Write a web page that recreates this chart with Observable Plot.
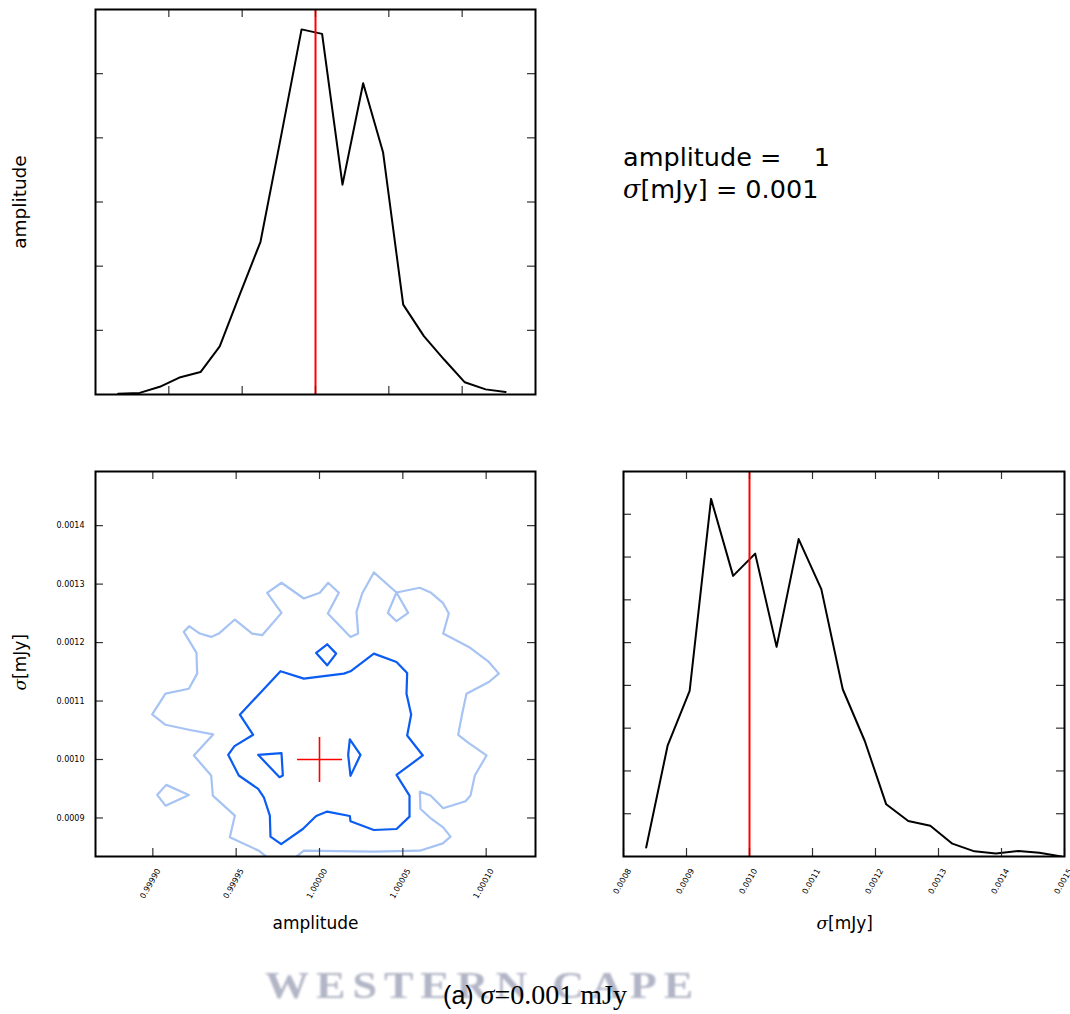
<!DOCTYPE html>
<html><head><meta charset="utf-8">
<script src="https://cdn.jsdelivr.net/npm/d3@7"></script>
<script src="https://cdn.jsdelivr.net/npm/@observablehq/plot@0.6"></script>
<style>
body{margin:0;background:#fff;}
#wrap{position:relative;width:1070px;height:1014px;overflow:hidden;font-family:"DejaVu Sans";background:#fff;}
.panel{position:absolute;}
.annot{position:absolute;left:623px;top:141px;font-size:25.5px;line-height:32px;white-space:pre;color:#000;}
.sig{font-family:"DejaVu Serif";font-style:italic;}
.wm{position:absolute;left:265px;top:963px;font-family:"Liberation Serif";font-weight:bold;font-size:38px;letter-spacing:6px;color:#b2b5c6;white-space:pre;transform-origin:0 0;transform:scaleX(1.16);filter:blur(0.9px);}
.cap{position:absolute;left:0;width:1070px;top:979px;text-align:center;white-space:pre;color:#000;}
.cap .a{font-family:"Liberation Sans";font-size:25px;}
.cap .s{font-family:"Liberation Serif";font-size:28px;}
</style></head><body><div id="wrap">
<div class="wm">WESTERN CAPE</div>
<div class="cap" id="cap"></div>
<div class="annot" id="annot"></div>
</div>
<script>
// ---- data ----
const truthAmp = 1.0;
const truthSigma = 0.001;

// marginal histogram of amplitude (bin centres, relative counts)
const ampBins = [0.9998654, 0.9998801, 0.9998938, 0.9999079, 0.9999216, 0.9999347, 0.9999484, 0.9999625, 0.9999763, 0.9999905,
                 1.0000045, 1.0000184, 1.0000325, 1.0000461, 1.0000598, 1.0000739, 1.0000877, 1.0001018, 1.0001160, 1.0001296];
const ampCounts = [0.01, 0.025, 0.12, 0.27, 0.35, 0.75, 1.56, 2.38, 4.0, 5.69,
                   5.62, 3.27, 4.85, 3.77, 1.40, 0.91, 0.545, 0.19, 0.08, 0.04];

// marginal histogram of sigma
const sigmaBins = [0.000836, 0.000870, 0.000905, 0.000939, 0.000974, 0.001009, 0.001043, 0.001078, 0.001114, 0.001148,
                   0.001183, 0.001217, 0.001252, 0.001287, 0.001322, 0.001357, 0.001391, 0.001427, 0.001460, 0.001495];
const sigmaCounts = [0.21, 2.59, 3.87, 8.36, 6.56, 7.08, 4.90, 7.42, 6.25, 3.91,
                     2.70, 1.22, 0.83, 0.72, 0.30, 0.12, 0.07, 0.13, 0.09, 0.0];

// axis domains / ticks
const ampHistDomain = [0.99985, 1.00015];
const ampDomain = [0.9998656, 1.0001296];
const sigmaDomain = [0.0008341, 0.0014926];
const sigmaHistDomain = [0.0008, 0.0015];
const ampTicks = [0.9999, 0.99995, 1.0, 1.00005, 1.0001];
const sigmaTicksLeft = [0.0009, 0.0010, 0.0011, 0.0012, 0.0013, 0.0014];
const sigmaTicksBottom = [0.0008, 0.0009, 0.0010, 0.0011, 0.0012, 0.0013, 0.0014, 0.0015];
const ampCountTicks = [1, 2, 3, 4, 5];
const sigmaCountTicks = [1, 2, 3, 4, 5, 6, 7, 8];

// 2D contours [amplitude, sigma]
const outerMain = [[0.9999686,0.0008326],[0.9999636,0.0008440],[0.9999462,0.0008669],[0.9999492,0.0009040],[0.9999360,0.0009383],
 [0.9999350,0.0009726],[0.9999246,0.0010069],[0.9999362,0.0010429],[0.9999216,0.0010509],[0.9999076,0.0010594],[0.9998996,0.0010771],
 [0.9999076,0.0011126],[0.9999216,0.0011211],[0.9999266,0.0011469],[0.9999262,0.0011823],[0.9999186,0.0012183],[0.9999218,0.0012280],
 [0.9999282,0.0012154],[0.9999350,0.0012097],[0.9999396,0.0012154],[0.9999492,0.0012394],[0.9999596,0.0012154],[0.9999656,0.0012126],
 [0.9999772,0.0012508],[0.9999686,0.0012851],[0.9999772,0.0013023],[0.9999906,0.0012754],[1.0000002,0.0012851],[1.0000052,0.0013023],
 [1.0000116,0.0012851],[1.0000050,0.0012497],[1.0000186,0.0012097],[1.0000232,0.0012154],[1.0000222,0.0012526],[1.0000256,0.0012840],
 [1.0000326,0.0013200],[1.0000462,0.0012857],[1.0000602,0.0012937],[1.0000670,0.0012851],[1.0000740,0.0012680],[1.0000776,0.0012497],
 [1.0000742,0.0012154],[1.0000896,0.0011926],[1.0001016,0.0011668],[1.0001076,0.0011469],[1.0001016,0.0011326],[1.0000882,0.0011126],
 [1.0000856,0.0010783],[1.0000832,0.0010423],[1.0000896,0.0010280],[1.0001002,0.0010069],[1.0000932,0.0009726],[1.0000906,0.0009383],
 [1.0000876,0.0009286],[1.0000742,0.0009166],[1.0000666,0.0009383],[1.0000602,0.0009451],[1.0000606,0.0009154],[1.0000672,0.0008983],
 [1.0000742,0.0008840],[1.0000786,0.0008680],[1.0000740,0.0008566],[1.0000602,0.0008440],[1.0000326,0.0008423],[0.9999906,0.0008440],
 [0.9999856,0.0008326]];
const outerLoopRight = [[1.0000462,0.0012857],[1.0000410,0.0012508],[1.0000462,0.0012366],[1.0000532,0.0012508],[1.0000462,0.0012857]];
const outerLoopLeft = [[0.9999026,0.0009394],[0.9999080,0.0009566],[0.9999216,0.0009394],[0.9999076,0.0009211],[0.9999026,0.0009394]];
const innerMain = [[0.9999766,0.0011509],[0.9999906,0.0011383],[1.0000146,0.0011469],[1.0000186,0.0011509],[1.0000326,0.0011811],
 [1.0000462,0.0011668],[1.0000526,0.0011480],[1.0000522,0.0011126],[1.0000550,0.0010771],[1.0000526,0.0010411],[1.0000620,0.0010069],
 [1.0000462,0.0009737],[1.0000540,0.0009383],[1.0000540,0.0009023],[1.0000462,0.0008811],[1.0000326,0.0008794],[1.0000186,0.0008943],
 [1.0000182,0.0009034],[1.0000046,0.0009109],[0.9999980,0.0009034],[0.9999900,0.0008811],[0.9999770,0.0008554],[0.9999706,0.0008680],
 [0.9999702,0.0009040],[0.9999666,0.0009354],[0.9999632,0.0009497],[0.9999516,0.0009726],[0.9999452,0.0010080],[0.9999490,0.0010229],
 [0.9999602,0.0010423],[0.9999522,0.0010766],[0.9999766,0.0011509]];
const innerLoopTop = [[0.9999980,0.0011823],[1.0000046,0.0011971],[1.0000100,0.0011811],[1.0000046,0.0011611],[0.9999980,0.0011823]];
const innerLoopLeft = [[0.9999632,0.0010080],[0.9999772,0.0010109],[0.9999780,0.0009726],[0.9999760,0.0009697],[0.9999632,0.0010080]];
const innerLoopRight = [[1.0000182,0.0010343],[1.0000246,0.0010080],[1.0000186,0.0009720],[1.0000172,0.0010080],[1.0000182,0.0010343]];

// ---- build tables ----
const ampHist = ampBins.map((a, i) => ({amp: a, count: ampCounts[i]}));
const sigmaHist = sigmaBins.map((s, i) => ({sigma: s, count: sigmaCounts[i]}));
const toRows = (loops) => loops.flatMap(([id, pts]) => pts.map(([a, s]) => ({id, amp: a, sigma: s})));
const lightRows = toRows([["om", outerMain], ["or", outerLoopRight], ["ol", outerLoopLeft]]);
const darkRows = toRows([["im", innerMain], ["it", innerLoopTop], ["il", innerLoopLeft], ["ir", innerLoopRight]]);

const FONT = "DejaVu Sans";
const tickColor = "#333";
const TL = 8;
function frameTicks(W, H, xt, yt) {
  return [
    Plot.tickX(xt, {x: d => d, insetTop: H - TL, stroke: tickColor, strokeWidth: 1.2}),
    Plot.tickX(xt, {x: d => d, insetBottom: H - TL, stroke: tickColor, strokeWidth: 1.2}),
    Plot.tickY(yt, {y: d => d, insetLeft: W - TL, stroke: tickColor, strokeWidth: 1.2}),
    Plot.tickY(yt, {y: d => d, insetRight: W - TL, stroke: tickColor, strokeWidth: 1.2}),
    Plot.frame({stroke: "black", strokeWidth: 2})
  ];
}

// top panel
const p1 = Plot.plot({
  width: 540, height: 400, marginLeft: 95, marginRight: 5, marginTop: 9, marginBottom: 6,
  x: {domain: ampHistDomain, axis: null},
  y: {domain: [0, 6], axis: null},
  style: {fontFamily: FONT, background: "transparent", overflow: "visible"},
  marks: [
    Plot.line(ampHist, {x: "amp", y: "count", stroke: "black", strokeWidth: 2}),
    Plot.ruleX([truthAmp], {stroke: "red", strokeWidth: 2}),
    ...frameTicks(440, 385, ampTicks, ampCountTicks),
    Plot.text(["amplitude"], {text: d => d, frameAnchor: "left", dx: -75, rotate: -90, textAnchor: "middle", fontSize: 18.5, fill: "black"})
  ]
});

// bottom-left panel
const p2 = Plot.plot({
  width: 540, height: 480, marginLeft: 95, marginRight: 5, marginTop: 11, marginBottom: 84,
  x: {domain: ampDomain, axis: null},
  y: {domain: sigmaDomain, axis: null},
  style: {fontFamily: FONT, background: "transparent", overflow: "visible"},
  marks: [
    Plot.line(lightRows, {x: "amp", y: "sigma", z: "id", stroke: "#a6c3f3", strokeWidth: 2.2, clip: true}),
    Plot.line(darkRows, {x: "amp", y: "sigma", z: "id", stroke: "#0a5cf2", strokeWidth: 2.2, clip: true}),
    Plot.dot([{amp: truthAmp, sigma: truthSigma}], {x: "amp", y: "sigma", symbol: "plus", r: 14.5, stroke: "#ff0000", fill: "none", strokeWidth: 1.6}),
    ...frameTicks(440, 385, ampTicks, sigmaTicksLeft),
    Plot.text(ampTicks, {x: d => d, text: d => d3.format(".5f")(d), frameAnchor: "bottom", rotate: -60, textAnchor: "end", dx: 8, dy: 14, fontSize: 8, fill: "black"}),
    Plot.text(sigmaTicksLeft, {y: d => d, text: d => d3.format(".4f")(d), frameAnchor: "left", textAnchor: "end", dx: -11, fontSize: 8, fill: "black"}),
    Plot.text(["amplitude"], {text: d => d, frameAnchor: "bottom", dy: 72, fontSize: 17, fill: "black"}),
    Plot.text(["σ"], {text: d => d, frameAnchor: "left", dx: -75, dy: 15, rotate: -90, textAnchor: "end", fontSize: 17, fontFamily: "DejaVu Serif", fontStyle: "italic", fill: "black"}),
    Plot.text(["[mJy]"], {text: d => d, frameAnchor: "left", dx: -75, dy: 15, rotate: -90, textAnchor: "start", fontSize: 17, fill: "black"})
  ]
});

// bottom-right panel
const p3 = Plot.plot({
  width: 530, height: 480, marginLeft: 83, marginRight: 6, marginTop: 11, marginBottom: 84,
  x: {domain: sigmaHistDomain, axis: null},
  y: {domain: [0, 9], axis: null},
  style: {fontFamily: FONT, background: "transparent", overflow: "visible"},
  marks: [
    Plot.line(sigmaHist, {x: "sigma", y: "count", stroke: "black", strokeWidth: 2, clip: true}),
    Plot.ruleX([truthSigma], {stroke: "red", strokeWidth: 2}),
    ...frameTicks(441, 385, sigmaTicksBottom, sigmaCountTicks),
    Plot.text(sigmaTicksBottom, {x: d => d, text: d => d3.format(".4f")(d), frameAnchor: "bottom", rotate: -60, textAnchor: "end", dx: 8, dy: 14, fontSize: 8, fill: "black"}),
    Plot.text(["σ"], {text: d => d, frameAnchor: "bottom", dy: 72, dx: -16, textAnchor: "end", fontSize: 17, fontFamily: "DejaVu Serif", fontStyle: "italic", fill: "black"}),
    Plot.text(["[mJy]"], {text: d => d, frameAnchor: "bottom", dy: 72, dx: -16, textAnchor: "start", fontSize: 17, fill: "black"})
  ]
});

// make sure the truth cross is red
p2.querySelectorAll('g[aria-label="dot"], g[aria-label="dot"] *').forEach(n => {
  n.setAttribute("stroke", "#ff0000");
});

const wrap = document.getElementById("wrap");
[[p1, 0, 0], [p2, 0, 460], [p3, 540, 460]].forEach(([el, l, t]) => {
  el.classList.add("panel");
  el.style.left = l + "px";
  el.style.top = t + "px";
  wrap.appendChild(el);
});

document.getElementById("annot").innerHTML =
  'amplitude =    ' + truthAmp + '\n<span class="sig">σ</span>[mJy] = ' + truthSigma;
document.getElementById("cap").innerHTML =
  '<span class="a">(a) </span><span class="s"><i>σ</i>=' + truthSigma + ' mJy</span>';
</script>
</body></html>
